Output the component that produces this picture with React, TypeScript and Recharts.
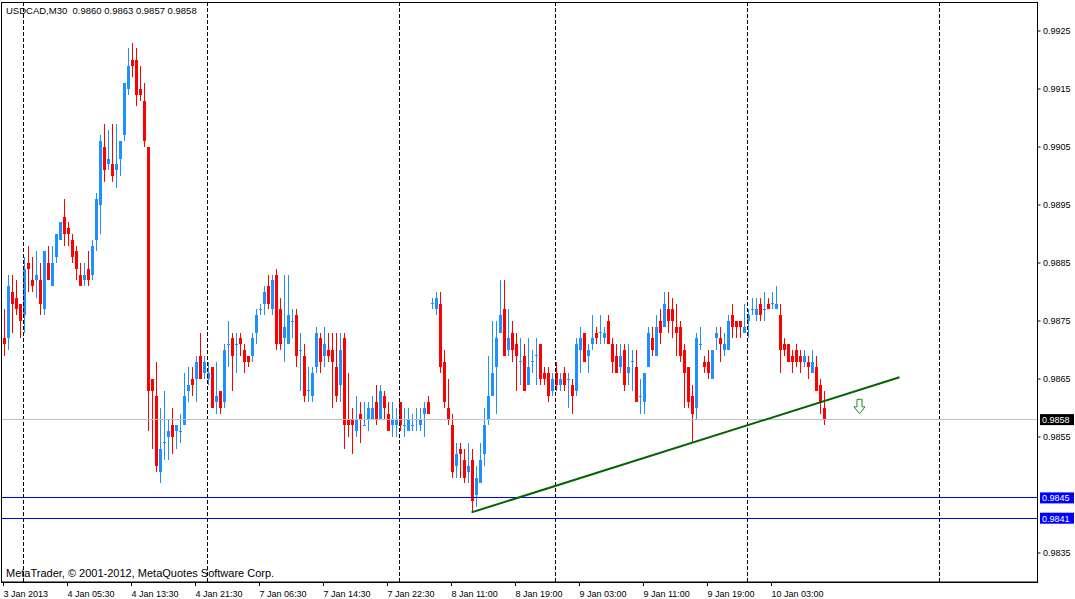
import React from "react";
import {
  ComposedChart,
  Bar,
  XAxis,
  YAxis,
  ReferenceLine,
  ReferenceArea,
  ReferenceDot,
} from "recharts";

// USDCAD M30 candles, prices in pips (price * 10000)
const opens = [
  9872, 9872, 9880, 9879, 9878, 9876, 9885, 9882, 9882, 9882,
  9877, 9885, 9881, 9886, 9889, 9893, 9891, 9889, 9887, 9883,
  9882, 9884, 9883, 9889, 9895, 9905, 9902, 9902, 9901, 9903,
  9907, 9915, 9920, 9920, 9915, 9913, 9905, 9865, 9862, 9849,
  9854, 9855, 9857, 9856, 9856, 9857, 9863, 9865, 9865, 9869,
  9866, 9865, 9867, 9861, 9863, 9861, 9871, 9872, 9871, 9872,
  9870, 9869, 9869, 9873, 9877, 9878, 9881, 9877, 9883, 9877,
  9872, 9871, 9875, 9876, 9870, 9869, 9863, 9862, 9867, 9872,
  9869, 9870, 9870, 9867, 9864, 9872, 9858, 9858, 9856, 9859,
  9857, 9858, 9858, 9861, 9858, 9862, 9859, 9857, 9857, 9861,
  9857, 9856, 9857, 9858, 9857, 9859, 9861, 9878, 9877, 9878,
  9868, 9860, 9857, 9850, 9853, 9851, 9849, 9851, 9845, 9847,
  9852, 9858, 9862, 9867, 9873, 9877, 9870, 9873, 9871, 9868,
  9869, 9864, 9868, 9869, 9871, 9866, 9866, 9863, 9866, 9864,
  9866, 9865, 9864, 9863, 9870, 9873, 9869, 9871, 9873, 9873,
  9872, 9875, 9871, 9869, 9867, 9870, 9866, 9868, 9867, 9862,
  9861, 9867, 9872, 9869, 9875, 9874, 9877, 9877, 9874, 9874,
  9870, 9867, 9862, 9860, 9871, 9868, 9868, 9865, 9872, 9872,
  9870, 9870, 9876, 9875, 9875, 9873, 9875, 9877, 9876, 9878,
  9877, 9878, 9878, 9877, 9876, 9871, 9871, 9869, 9870, 9869,
  9868, 9868, 9866, 9867, 9864, 9860,
];
const highs = [
  9877, 9883, 9883, 9882, 9878, 9886, 9888, 9886, 9887, 9885,
  9887, 9888, 9888, 9890, 9892, 9896, 9892, 9890, 9888, 9885,
  9885, 9887, 9889, 9897, 9907, 9909, 9908, 9909, 9909, 9906,
  9916, 9922, 9923, 9922, 9919, 9916, 9905, 9865, 9868, 9860,
  9863, 9858, 9860, 9857, 9859, 9866, 9867, 9867, 9869, 9873,
  9869, 9868, 9867, 9868, 9863, 9871, 9875, 9873, 9873, 9873,
  9871, 9869, 9873, 9877, 9878, 9881, 9883, 9883, 9884, 9879,
  9883, 9883, 9877, 9877, 9873, 9871, 9867, 9867, 9874, 9873,
  9874, 9873, 9873, 9873, 9873, 9873, 9866, 9860, 9862, 9861,
  9861, 9861, 9862, 9864, 9864, 9863, 9861, 9861, 9860, 9861,
  9860, 9860, 9859, 9860, 9860, 9861, 9862, 9879, 9880, 9880,
  9870, 9865, 9859, 9854, 9854, 9853, 9854, 9853, 9850, 9854,
  9860, 9869, 9875, 9875, 9882, 9882, 9877, 9875, 9873, 9872,
  9871, 9872, 9870, 9872, 9871, 9867, 9867, 9866, 9868, 9866,
  9867, 9866, 9865, 9872, 9874, 9873, 9871, 9876, 9874, 9876,
  9874, 9876, 9872, 9871, 9871, 9871, 9871, 9870, 9870, 9865,
  9866, 9874, 9874, 9876, 9877, 9880, 9880, 9879, 9878, 9875,
  9871, 9867, 9864, 9873, 9874, 9869, 9870, 9870, 9874, 9874,
  9873, 9876, 9878, 9875, 9875, 9878, 9877, 9879, 9879, 9879,
  9880, 9879, 9880, 9881, 9878, 9872, 9871, 9870, 9871, 9870,
  9870, 9869, 9870, 9869, 9865, 9863,
];
const lows = [
  9869, 9870, 9873, 9876, 9872, 9873, 9880, 9880, 9879, 9876,
  9876, 9882, 9881, 9885, 9889, 9888, 9888, 9885, 9882, 9881,
  9881, 9881, 9882, 9887, 9890, 9899, 9901, 9899, 9898, 9900,
  9906, 9914, 9917, 9912, 9913, 9905, 9856, 9853, 9849, 9847,
  9851, 9851, 9852, 9853, 9854, 9857, 9861, 9862, 9861, 9865,
  9865, 9864, 9860, 9859, 9859, 9860, 9867, 9863, 9866, 9869,
  9866, 9867, 9868, 9871, 9876, 9876, 9877, 9876, 9870, 9870,
  9868, 9871, 9872, 9867, 9863, 9861, 9861, 9861, 9866, 9866,
  9867, 9868, 9860, 9861, 9861, 9853, 9855, 9852, 9855, 9854,
  9857, 9856, 9858, 9857, 9858, 9858, 9856, 9855, 9855, 9856,
  9855, 9856, 9856, 9856, 9856, 9855, 9859, 9877, 9876, 9866,
  9860, 9857, 9848, 9848, 9848, 9847, 9847, 9842, 9843, 9847,
  9850, 9857, 9862, 9859, 9873, 9869, 9869, 9868, 9863, 9864,
  9863, 9864, 9866, 9864, 9864, 9864, 9861, 9862, 9863, 9863,
  9863, 9860, 9859, 9862, 9866, 9868, 9866, 9870, 9871, 9871,
  9871, 9871, 9866, 9866, 9866, 9863, 9864, 9863, 9861, 9859,
  9859, 9867, 9869, 9869, 9871, 9874, 9873, 9872, 9869, 9868,
  9860, 9860, 9854, 9858, 9870, 9866, 9865, 9865, 9870, 9868,
  9869, 9870, 9872, 9872, 9872, 9873, 9872, 9876, 9875, 9875,
  9875, 9877, 9877, 9877, 9866, 9869, 9868, 9866, 9867, 9866,
  9867, 9865, 9866, 9863, 9859, 9857,
];
const closes = [
  9871, 9881, 9878, 9877, 9875, 9884, 9884, 9881, 9883, 9878,
  9887, 9882, 9885, 9890, 9892, 9890, 9890, 9886, 9884, 9881,
  9883, 9882, 9888, 9896, 9906, 9901, 9903, 9900, 9902, 9906,
  9916, 9919, 9919, 9914, 9914, 9906, 9863, 9863, 9850, 9853,
  9854, 9856, 9855, 9857, 9856, 9862, 9864, 9864, 9868, 9865,
  9868, 9866, 9860, 9862, 9860, 9870, 9871, 9869, 9871, 9871,
  9868, 9868, 9872, 9876, 9877, 9880, 9878, 9882, 9871, 9871,
  9874, 9876, 9875, 9869, 9870, 9862, 9863, 9866, 9873, 9868,
  9871, 9869, 9868, 9862, 9870, 9857, 9857, 9857, 9858, 9858,
  9857, 9860, 9860, 9858, 9863, 9860, 9856, 9858, 9858, 9857,
  9857, 9858, 9857, 9858, 9858, 9860, 9859, 9878, 9879, 9867,
  9861, 9858, 9849, 9852, 9852, 9848, 9850, 9844, 9848, 9851,
  9857, 9862, 9866, 9872, 9876, 9869, 9872, 9870, 9869, 9868,
  9863, 9867, 9868, 9869, 9865, 9865, 9862, 9865, 9864, 9865,
  9864, 9865, 9862, 9871, 9872, 9868, 9870, 9872, 9872, 9873,
  9873, 9871, 9868, 9866, 9869, 9864, 9867, 9868, 9861, 9862,
  9866, 9873, 9870, 9874, 9873, 9878, 9875, 9875, 9873, 9869,
  9866, 9861, 9859, 9872, 9871, 9867, 9866, 9870, 9873, 9871,
  9871, 9875, 9874, 9874, 9874, 9874, 9876, 9877, 9877, 9876,
  9877, 9877, 9878, 9878, 9870, 9870, 9868, 9868, 9868, 9868,
  9869, 9867, 9868, 9863, 9861, 9858,
];

const timeLabels = [
  "3 Jan 2013", "4 Jan 05:30", "4 Jan 13:30", "4 Jan 21:30", "7 Jan 06:30",
  "7 Jan 14:30", "7 Jan 22:30", "8 Jan 11:00", "8 Jan 19:00", "9 Jan 03:00",
  "9 Jan 11:00", "9 Jan 19:00", "10 Jan 03:00",
];
const labelStep = 16; // one time label every 16 bars
const totalSlots = 259; // bars + empty space on the right
const separatorBars = [5, 51, 99, 138, 186, 234]; // day separators
// 0.9845 sits under the blue level tag, so it is left out
const priceTicks = [0.9835, 0.9855, 0.9865, 0.9875, 0.9885, 0.9895, 0.9905, 0.9915, 0.9925];
const bidPrice = 0.9858;
const levelPrices = [0.98445, 0.9841];
const levelLabels = ["0.9845", "0.9841"];
const trendBars = [117, 224];
const trendPrices = [0.9842, 0.98653];
const signalBar = 214;
const signalPrice = 0.98602;

const FONT = "'Liberation Sans', Arial, sans-serif";
const UP = "#1E90FF";
const DOWN = "#FF0000";

const rows = Array.from({ length: totalSlots }, (_, i) =>
  i < opens.length
    ? {
        i,
        range: [lows[i] / 10000, highs[i] / 10000],
        open: opens[i] / 10000,
        high: highs[i] / 10000,
        low: lows[i] / 10000,
        close: closes[i] / 10000,
      }
    : { i, range: null }
);

const xTicks = timeLabels.map((_, k) => k * labelStep);
const last = opens.length - 1;
const fmt = (v: number) => (v / 10000).toFixed(4);
const title = `USDCAD,M30  ${fmt(opens[last])} ${fmt(highs[last])} ${fmt(lows[last])} ${fmt(closes[last])}`;

function Candle(props: any) {
  const { x, y, width, height, payload } = props;
  if (!payload || payload.range == null) return null;
  const { open, close, high, low } = payload;
  const top = Math.min(y, y + height);
  const h = Math.abs(height);
  const k = high > low ? h / (high - low) : 0;
  const yOf = (v: number) => top + (high - v) * k;
  const cx = x + width / 2;
  const color = close >= open ? UP : DOWN;
  const yo = yOf(open);
  const yc = yOf(close);
  const bt = Math.min(yo, yc);
  const bb = Math.max(yo, yc);
  return (
    <g shapeRendering="crispEdges">
      <line x1={cx} x2={cx} y1={top} y2={top + h} stroke={color} strokeWidth={1} />
      {bb - bt < 1 ? (
        <line x1={cx - 1.5} x2={cx + 1.5} y1={bt} y2={bt} stroke={color} strokeWidth={1} />
      ) : (
        <rect x={cx - 1.5} y={bt} width={3} height={bb - bt} fill={color} />
      )}
    </g>
  );
}

function TimeTick(props: any) {
  const { x, y, payload } = props;
  const label = timeLabels[Math.round(payload.value / labelStep)];
  return (
    <text x={x} y={y} dy={9} textAnchor="start" fontSize={9} fontFamily={FONT} fill="#000">
      {label}
    </text>
  );
}

function PriceTag(props: any) {
  const { viewBox, text, bg } = props;
  if (!viewBox) return null;
  const x = viewBox.x + viewBox.width + 2.5;
  const y = viewBox.y;
  return (
    <g>
      <rect x={x} y={y - 5.5} width={34} height={11} fill={bg} />
      <text x={x + 2} y={y + 3.5} fill="#fff" fontSize={9} fontFamily={FONT}>
        {text}
      </text>
    </g>
  );
}

function SignalArrow(props: any) {
  const { cx, cy } = props;
  const d = `M${cx - 2.5},${cy - 7.5} L${cx + 2.5},${cy - 7.5} L${cx + 2.5},${cy} L${cx + 5.5},${cy} L${cx},${cy + 7} L${cx - 5.5},${cy} L${cx - 2.5},${cy} Z`;
  return <path d={d} fill="#fff" stroke="#228B22" strokeWidth={1} />;
}

export default function App() {
  return (
    <div
      style={{
        position: "absolute",
        left: 0,
        top: 0,
        width: 1075,
        height: 599,
        background: "#fff",
        overflow: "hidden",
      }}
    >
      <ComposedChart
        width={1075}
        height={599}
        data={rows}
        margin={{ top: 2, right: 0, bottom: 0, left: 1.5 }}
        barCategoryGap={0}
      >
        <XAxis
          dataKey="i"
          type="category"
          ticks={xTicks}
          interval={0}
          height={17}
          tickSize={4}
          stroke="#000"
          tick={<TimeTick />}
        />
        <YAxis
          orientation="right"
          type="number"
          domain={[0.983, 0.993]}
          ticks={priceTicks}
          interval={0}
          width={37.5}
          tickSize={3}
          tickMargin={2.5}
          allowDataOverflow
          stroke="#000"
          tick={{ fill: "#000", fontSize: 9, fontFamily: FONT }}
          tickFormatter={(v: number) => v.toFixed(4)}
        />
        <ReferenceArea
          x1={0}
          x2={totalSlots - 1}
          y1={0.983}
          y2={0.993}
          fill="none"
          fillOpacity={0}
          stroke="#000"
          strokeWidth={1}
          shapeRendering="crispEdges"
          ifOverflow="visible"
        />
        {separatorBars.map((b) => (
          <ReferenceLine key={b} x={b} stroke="#000" strokeDasharray="4 2" />
        ))}
        <ReferenceLine
          y={bidPrice}
          stroke="#C0C0C0"
          shapeRendering="crispEdges"
          label={<PriceTag text={bidPrice.toFixed(4)} bg="#000" />}
        />
        {levelPrices.map((p, k) => (
          <ReferenceLine
            key={p}
            y={p}
            stroke="#0000FF"
            shapeRendering="crispEdges"
            label={<PriceTag text={levelLabels[k]} bg="#0000FF" />}
          />
        ))}
        <Bar
          dataKey="range"
          barSize={3}
          shape={(p: any) => <Candle {...p} />}
          isAnimationActive={false}
        />
        <ReferenceLine
          segment={[
            { x: trendBars[0], y: trendPrices[0] },
            { x: trendBars[1], y: trendPrices[1] },
          ]}
          stroke="#006400"
          strokeWidth={2}
        />
        <ReferenceDot x={signalBar} y={signalPrice} shape={(p: any) => <SignalArrow {...p} />} />
      </ComposedChart>
      <div
        style={{
          position: "absolute",
          left: 6,
          top: 5,
          fontFamily: FONT,
          fontSize: 9.5,
          lineHeight: "11px",
          whiteSpace: "pre",
          color: "#000",
        }}
      >
        {title}
      </div>
      <div
        style={{
          position: "absolute",
          left: 6,
          top: 567,
          fontFamily: FONT,
          fontSize: 11,
          lineHeight: "12px",
          whiteSpace: "pre",
          color: "#000",
        }}
      >
        MetaTrader, © 2001-2012, MetaQuotes Software Corp.
      </div>
    </div>
  );
}
